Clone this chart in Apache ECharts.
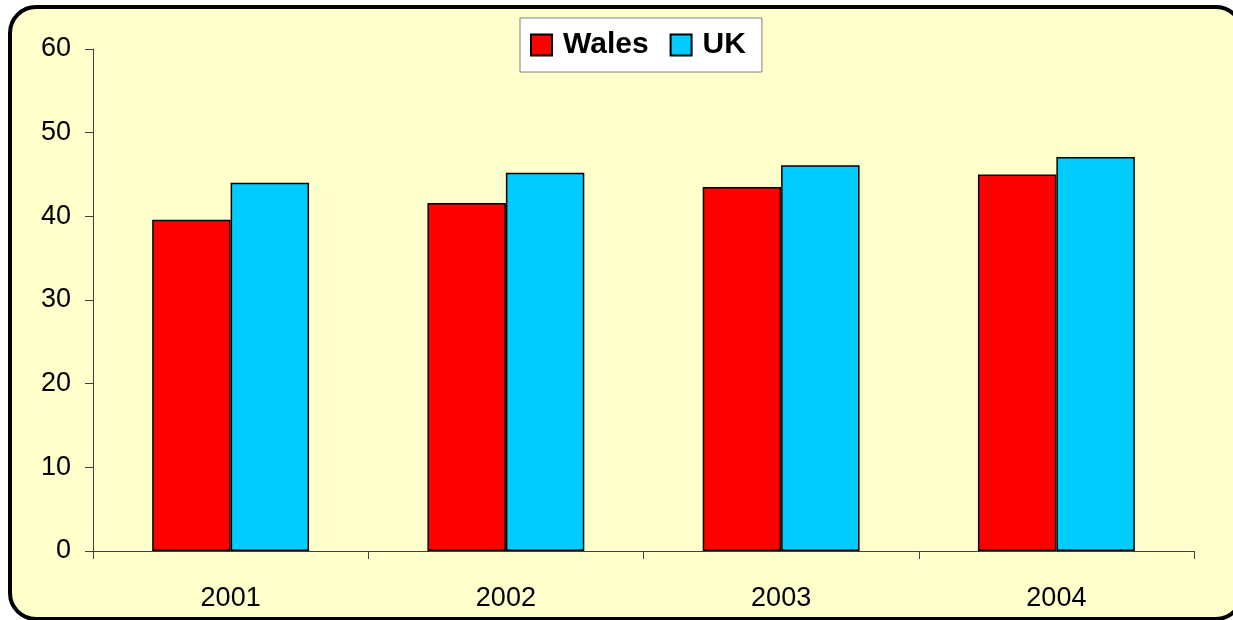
<!DOCTYPE html>
<html>
<head>
<meta charset="utf-8">
<script src="https://cdn.jsdelivr.net/npm/echarts@6/dist/echarts.min.js"></script>
<style>
  html, body { margin: 0; padding: 0; background: #ffffff; overflow: hidden; }
  #chart { width: 1233px; height: 620px; }
</style>
</head>
<body>
<div id="chart"></div>
<script>
// Chart data
const years = ['2001', '2002', '2003', '2004'];
const wales = [39.6, 41.6, 43.5, 45.0];
const uk = [44.0, 45.2, 46.1, 47.1];
const seriesNames = ['Wales', 'UK'];

const chart = echarts.init(document.getElementById('chart'), null, { renderer: 'canvas' });

const FONT = 'Liberation Sans, Arial, sans-serif';
const axisColor = '#404040';

chart.setOption({
  backgroundColor: '#ffffff',
  animation: false,
  graphic: [{
    // rounded panel behind the plot, running past the right and bottom edges
    type: 'rect',
    z: -10,
    silent: true,
    shape: { x: 10, y: 7, width: 1232, height: 612, r: 26 },
    style: { fill: '#FFFFCC', stroke: '#000000', lineWidth: 4 }
  }],
  legend: {
    data: seriesNames,
    left: 520,
    top: 18,
    orient: 'horizontal',
    itemWidth: 21,
    itemHeight: 21,
    itemGap: 21,
    backgroundColor: '#ffffff',
    borderColor: '#808080',
    borderWidth: 1,
    borderRadius: 0,
    padding: [10, 16, 10, 10],
    icon: 'rect',
    textStyle: {
      fontFamily: FONT,
      fontSize: 30,
      fontWeight: 'bold',
      color: '#000000',
      lineHeight: 34,
      padding: [0, 0, 0, 6]
    }
  },
  grid: {
    left: 93,
    right: 39,
    top: 49,
    bottom: 69,
    containLabel: false
  },
  xAxis: {
    type: 'category',
    data: years,
    boundaryGap: true,
    axisLine: { show: true, lineStyle: { color: axisColor, width: 1 } },
    axisTick: { show: true, length: 8, alignWithLabel: false, lineStyle: { color: axisColor, width: 1 } },
    axisLabel: { fontFamily: FONT, fontSize: 27, color: '#000000', margin: 34 },
    splitLine: { show: false }
  },
  yAxis: {
    type: 'value',
    min: 0,
    max: 60,
    interval: 10,
    axisLine: { show: true, lineStyle: { color: axisColor, width: 1 } },
    axisTick: { show: true, length: 8, lineStyle: { color: axisColor, width: 1 } },
    axisLabel: { fontFamily: FONT, fontSize: 27, color: '#000000', margin: 22 },
    splitLine: { show: false }
  },
  series: [
    {
      name: seriesNames[0],
      type: 'bar',
      data: wales,
      barGap: '0%',
      barCategoryGap: '43%',
      itemStyle: { color: '#FF0000', borderColor: '#000000', borderWidth: 1.5 }
    },
    {
      name: seriesNames[1],
      type: 'bar',
      data: uk,
      barGap: '0%',
      barCategoryGap: '43%',
      itemStyle: { color: '#00CCFF', borderColor: '#000000', borderWidth: 1.5 }
    }
  ]
});
</script>
</body>
</html>
